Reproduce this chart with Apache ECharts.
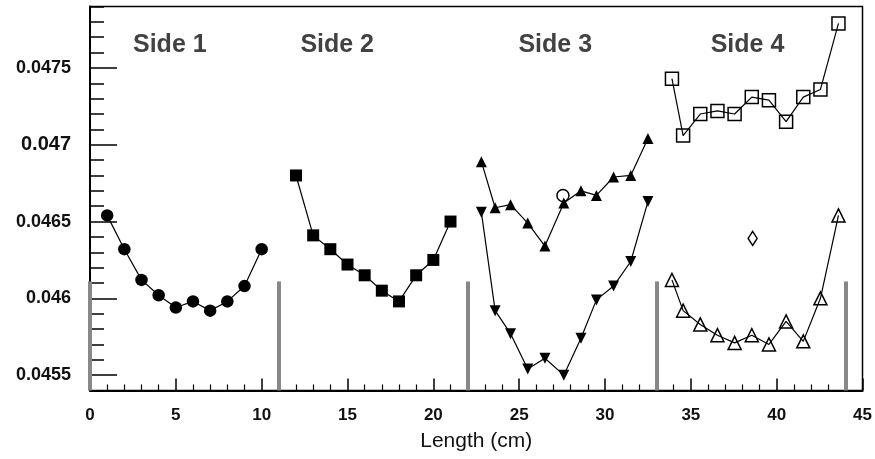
<!DOCTYPE html>
<html>
<head>
<meta charset="utf-8">
<script src="https://cdn.jsdelivr.net/npm/echarts@6/dist/echarts.min.js"></script>
<style>
  html, body { margin: 0; padding: 0; background: #fff; }
  #chart { width: 875px; height: 459px; }
</style>
</head>
<body>
<div id="chart"></div>
<script>
// values
var side1X = [1, 2, 3, 4, 5, 6, 7, 8, 9, 10];
var side1Y = [0.04654, 0.04632, 0.04612, 0.04602, 0.04594, 0.04598, 0.04592, 0.04598, 0.04608, 0.04632];

var side2X = [12, 13, 14, 15, 16, 17, 18, 19, 20, 21];
var side2Y = [0.04680, 0.04641, 0.04632, 0.04622, 0.04615, 0.04605, 0.04598, 0.04615, 0.04625, 0.04650];

var side3X = [22.8, 23.6, 24.5, 25.5, 26.5, 27.6, 28.6, 29.5, 30.5, 31.5, 32.5];
var side3UpY = [0.04689, 0.04659, 0.04661, 0.04649, 0.04634, 0.04662, 0.04670, 0.04667, 0.04679, 0.04680, 0.04704];
var side3DownY = [0.04656, 0.04592, 0.04577, 0.04554, 0.04561, 0.04550, 0.04574, 0.04599, 0.04608, 0.04624, 0.04663];
var side3CircleX = [27.55];
var side3CircleY = [0.04667];

var side4X = [33.9, 34.55, 35.55, 36.55, 37.55, 38.55, 39.55, 40.55, 41.55, 42.55, 43.6];
var side4SquareY = [0.04743, 0.04706, 0.04720, 0.04722, 0.04720, 0.04731, 0.04729, 0.04715, 0.04731, 0.04736, 0.04779];
var side4TriY = [0.04612, 0.04592, 0.04583, 0.04576, 0.04571, 0.04576, 0.04570, 0.04585, 0.04572, 0.04600, 0.04654];
var side4DiamondX = [38.6];
var side4DiamondY = [0.04639];

var dividerX = [0, 11, 22, 33, 44];
var dividerTop = 0.04611;

var sideNames = ['Side 1', 'Side 2', 'Side 3', 'Side 4'];
var sideLabelX = [4.65, 14.4, 27.1, 38.3];
var sideLabelY = [0.04765, 0.04765, 0.04765, 0.04765];

var yMajor = [0.0455, 0.046, 0.0465, 0.047, 0.0475];

function pairs(xs, ys) {
  return xs.map(function (x, i) { return [x, ys[i]]; });
}

function markerSeries(xs, ys, symbol, size, filled, extra) {
  var s = {
    type: 'line',
    data: pairs(xs, ys),
    symbol: symbol,
    symbolSize: size,
    showAllSymbol: true,
    lineStyle: { color: '#000', width: 1.2 },
    itemStyle: filled
      ? { color: '#000' }
      : { color: 'rgba(255,255,255,0)', borderColor: '#000', borderWidth: 1.5 },
    z: 5,
    animation: false
  };
  for (var k in extra) s[k] = extra[k];
  return s;
}

var chart = echarts.init(document.getElementById('chart'));

var option = {
  animation: false,
  backgroundColor: '#fff',
  grid: {
    left: 90, right: 12.5, top: 6.5, bottom: 68.5,
    show: true, borderColor: '#000', borderWidth: 1.5, backgroundColor: 'transparent'
  },
  xAxis: {
    type: 'value',
    min: 0, max: 45, interval: 5,
    name: 'Length (cm)',
    nameLocation: 'middle',
    nameGap: 40,
    nameTextStyle: { fontFamily: 'Liberation Sans', fontSize: 21, color: '#111' },
    axisLine: { show: true, onZero: false, lineStyle: { color: '#000', width: 2 } },
    axisTick: { show: true, inside: true, length: 12, lineStyle: { color: '#000', width: 1.5 } },
    minorTick: { show: true, splitNumber: 5, length: 6, lineStyle: { color: '#000', width: 1.2 } },
    splitLine: { show: false },
    axisLabel: { margin: 16, fontFamily: 'Liberation Sans', fontWeight: 'bold', fontSize: 17, color: '#111' }
  },
  yAxis: [
    {
      type: 'value',
      min: 0.0454, max: 0.0479, interval: 0.0001,
      axisLine: { show: true, onZero: false, lineStyle: { color: '#000', width: 2 } },
      axisTick: { show: true, inside: true, length: 14, lineStyle: { color: '#000', width: 1.5 } },
      splitLine: { show: false },
      axisLabel: {
        margin: 19,
        fontFamily: 'Liberation Sans', fontWeight: 'bold', fontSize: 18, color: '#111',
        formatter: function (v) {
          var r = Math.round(v * 10000);
          if (r % 5 !== 0) return '';
          var t = (r / 10000).toString();
          return r === 470 ? '{big|' + t + '}' : t;
        },
        rich: { big: { fontFamily: 'Liberation Sans', fontWeight: 'bold', fontSize: 20, color: '#111' } }
      }
    },
    {
      type: 'value',
      position: 'left',
      min: 0.0454, max: 0.0479,
      axisLine: { show: false },
      axisTick: { show: true, inside: true, length: 27, customValues: yMajor, lineStyle: { color: '#000', width: 1.5 } },
      axisLabel: { show: false },
      splitLine: { show: false }
    }
  ],
  series: [
    {
      type: 'line',
      data: [],
      markLine: {
        silent: true,
        symbol: 'none',
        label: { show: false },
        lineStyle: { color: '#888', width: 4, type: 'solid' },
        data: dividerX.map(function (x) {
          return [{ coord: [x, 0.0454] }, { coord: [x, dividerTop] }];
        })
      },
      z: 3
    },
    markerSeries(side1X, side1Y, 'circle', 12.5, true),
    markerSeries(side2X, side2Y, 'rect', 12, true),
    markerSeries(side3X, side3UpY, 'triangle', 11, true),
    markerSeries(side3X, side3DownY, 'triangle', 11, true, { symbolRotate: 180 }),
    markerSeries(side3CircleX, side3CircleY, 'circle', 12, false),
    markerSeries(side4X, side4SquareY, 'rect', 13, false),
    markerSeries(side4X, side4TriY, 'triangle', 13, false),
    markerSeries(side4DiamondX, side4DiamondY, 'diamond', [9, 14], false),
    {
      type: 'scatter',
      symbolSize: 0,
      data: sideLabelX.map(function (x, i) { return { name: sideNames[i], value: [x, sideLabelY[i]] }; }),
      label: {
        show: true, position: 'inside', formatter: '{b}',
        fontFamily: 'Liberation Sans', fontWeight: 'bold', fontSize: 25, color: '#111'
      },
      silent: true
    }
  ]
};

chart.setOption(option);
</script>
</body>
</html>
